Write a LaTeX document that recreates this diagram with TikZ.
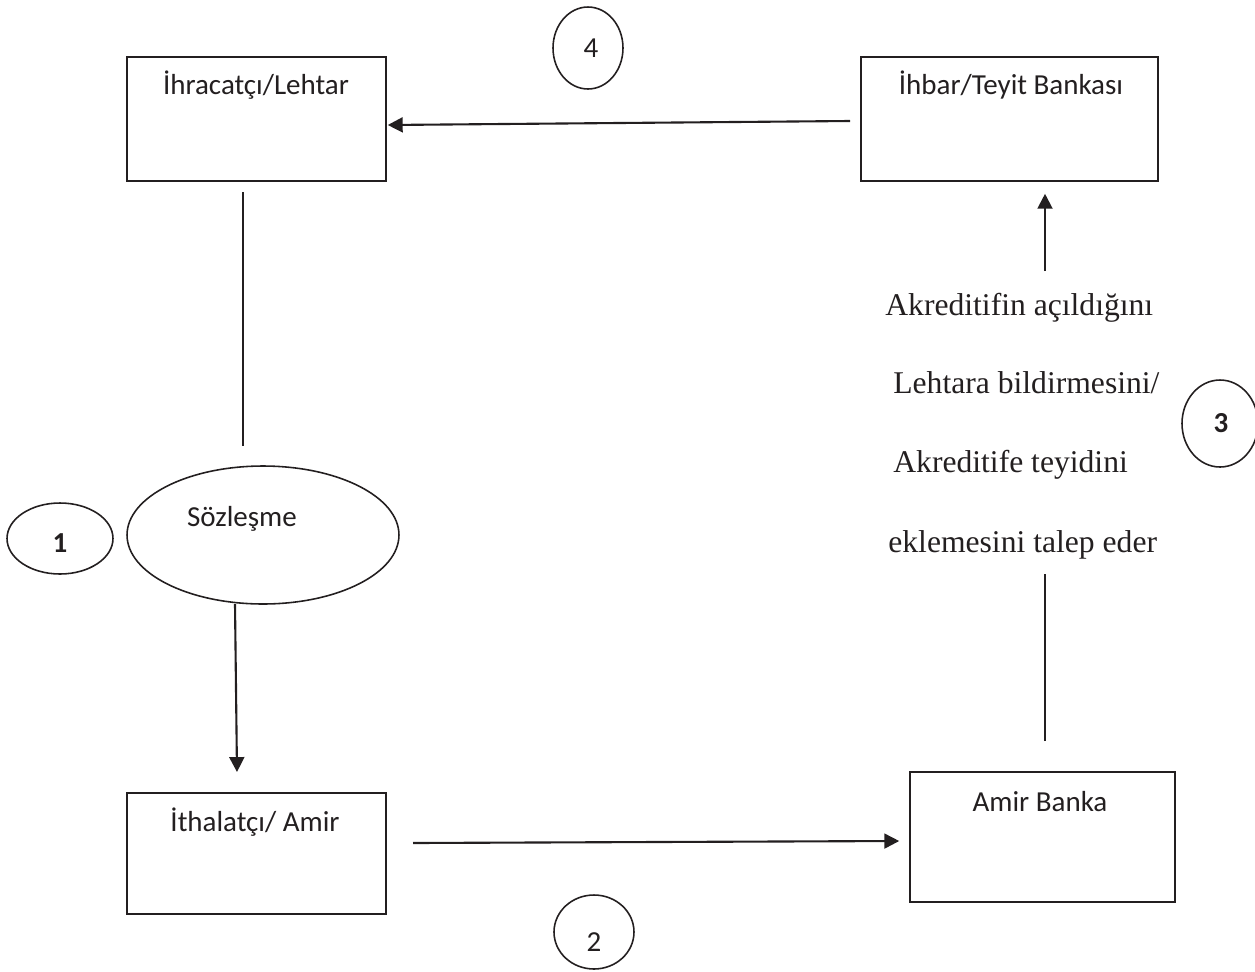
\documentclass[tikz,border=0pt]{standalone}
\usepackage{fontspec}
\setmainfont{Carlito}
\newfontfamily\tnr{Liberation Serif}
\usetikzlibrary{arrows.meta,shapes.geometric,calc}
\definecolor{ink}{HTML}{231F20}
\begin{document}
\begin{tikzpicture}[x=0.02cm,y=-0.02cm,
  box/.style={draw=ink, line width=0.9pt, inner sep=0pt},
  oval/.style={draw=ink, ellipse, line width=0.9pt, inner sep=0pt},
  lbl/.style={text=ink, font=\fontsize{16.5}{20}\selectfont, anchor=base, inner sep=0pt},
  numb/.style={text=ink, font=\bfseries\fontsize{16.5}{20}\selectfont, anchor=base, inner sep=0pt},
  body/.style={text=ink, font=\tnr\fontsize{18}{22}\selectfont, anchor=base west, inner sep=0pt},
  arr/.style={draw=ink, line width=1.2pt, -{Triangle[length=8.5pt,width=8.5pt]}},
  ln/.style={draw=ink, line width=1.1pt}]
\path[use as bounding box] (0,0) rectangle (1255,971);

% boxes
\node[box, minimum width=5.18cm, minimum height=2.48cm] (A) at (256.5,119) {};
\node[lbl] (At) at (256,94) {İhracatçı/Lehtar};
\node[box, minimum width=5.94cm, minimum height=2.48cm] (B) at (1009.5,119) {};
\node[lbl] (Bt) at (1011,94) {İhbar/Teyit Bankası};
\node[box, minimum width=5.18cm, minimum height=2.42cm] (C) at (256.5,853.5) {};
\node[lbl] (Ct) at (255,831) {İthalatçı/ Amir};
\node[box, minimum width=5.3cm, minimum height=2.6cm] (D) at (1042.5,837) {};
\node[lbl] (Dt) at (1040,811) {Amir Banka};

% contract ellipse
\node[oval, minimum width=5.44cm, minimum height=2.76cm] (S) at (263,535) {};
\node[lbl] (St) at (242,526) {Sözleşme};

% numbered ovals
\node[oval, minimum width=2.12cm, minimum height=1.42cm] (N1) at (60,538.5) {};
\node[numb] (N1t) at (60,552) {1};
\node[oval, minimum width=1.6cm, minimum height=1.48cm] (N2) at (594,932) {};
\node[lbl] (N2t) at (594,951) {2};
\node[oval, minimum width=1.52cm, minimum height=1.74cm] (N3) at (1220,423.5) {};
\node[numb] (N3t) at (1221,432) {3};
\node[oval, minimum width=1.4cm, minimum height=1.64cm] (N4) at (588,48) {};
\node[lbl] (N4t) at (591,57) {4};

% right-hand text
\node[body] (T1) at (885,315) {Akreditifin açıldığını};
\node[body] (T2) at (893,393) {Lehtara bildirmesini/};
\node[body] (T3) at (893,472) {Akreditife teyidini};
\node[body] (T4) at (888,552) {eklemesini talep eder};

% connectors
\coordinate (a4s) at (850,121);
\draw[arr] (a4s) -- ($(A.east)+(1,6)$);

\coordinate (l1s) at (243,192);
\coordinate (l1e) at (243,446);
\draw[ln] (l1s) -- (l1e);

\coordinate (a1s) at (235,604);
\coordinate (a1e) at (237,772);
\draw[arr] (a1s) -- (a1e);

\coordinate (a2s) at (413,843);
\draw[arr] (a2s) -- ($(D.west)+(-10,4)$);

\coordinate (l3s) at (1045,741);
\coordinate (l3e) at (1045,574);
\draw[ln] (l3s) -- (l3e);

\coordinate (a3s) at (1045,271);
\draw[arr] (a3s) -- ($(B.south -| a3s)+(0,12)$);
\end{tikzpicture}
\end{document}
